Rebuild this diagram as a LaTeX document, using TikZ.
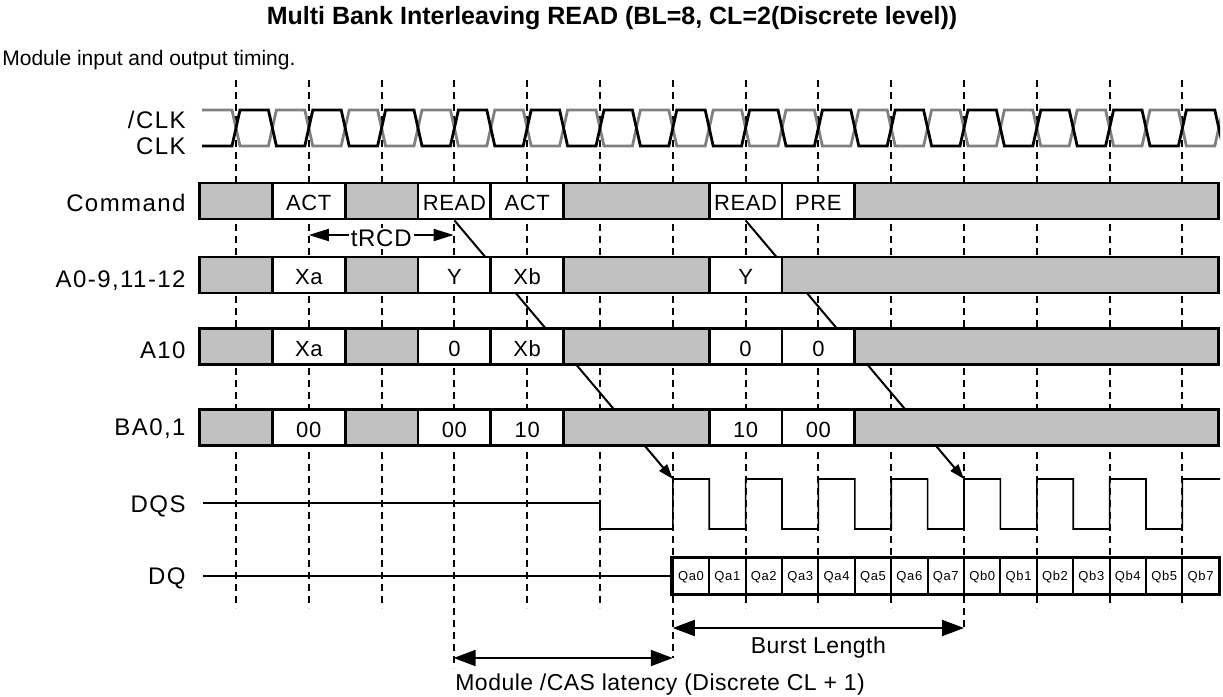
\documentclass[tikz,border=0pt]{standalone}
\usepackage{fontspec}
\setmainfont{Liberation Sans}
\usetikzlibrary{arrows.meta}
\definecolor{cellgray}{HTML}{C0C0C0}
\definecolor{clkgray}{HTML}{808080}
\pgfdeclarelayer{bg}
\pgfsetlayers{bg,main}

\begin{document}
\begin{tikzpicture}[x=0.5pt,y=-0.5pt,
 cell/.style={draw,line width=1.4pt,minimum height=18pt,inner sep=0pt,text height=9.9pt,text depth=0pt,
   font=\fontsize{11}{11}\selectfont\addfontfeatures{LetterSpace=3}},
 qcell/.style={draw,line width=1pt,fill=white,minimum width=18.2pt,minimum height=18pt,inner sep=0pt,
   text height=4.65pt,text depth=0pt,font=\fontsize{6.5}{6.5}\selectfont\addfontfeatures{LetterSpace=5}},
 lab/.style={anchor=base east,inner sep=0pt,font=\fontsize{12}{12}\selectfont\addfontfeatures{LetterSpace=6}},
 tick/.style={line width=1pt,dash pattern=on 3.5pt off 2.5pt},
 clk/.style={line width=1.4pt},
 wave/.style={line width=0.8pt},
 diag/.style={line width=1pt,-{Triangle[length=7.5pt,width=5pt]}},
 dim/.style={line width=1pt,{Triangle[length=11pt,width=8pt]}-{Triangle[length=11pt,width=8pt]}},
 dimn/.style={line width=1pt,{Triangle[length=10pt,width=6pt]}-{Triangle[length=10pt,width=6pt]}},
 note/.style={inner sep=0pt,font=\fontsize{11.5}{12}\selectfont\addfontfeatures{LetterSpace=2}}]

\useasboundingbox (0,0) rectangle (1223,697);

% headings
\node[font=\fontsize{12.5}{14}\selectfont\bfseries] (title) at (612,18) {Multi Bank Interleaving READ (BL=8, CL=2(Discrete level))};
\node[anchor=west,inner sep=0pt,font=\fontsize{10.5}{12}\selectfont] (sub) at (2,60) {Module input and output timing.};

% signal names
\node[lab] (lclkn) at (186,128) {/CLK};
\node[lab] (lclk) at (186,154.5) {CLK};
\node[lab] (lcmd) at (186,211.5) {Command};
\node[lab] (ladr) at (186,287) {A0-9,11-12};
\node[lab] (la10) at (186,358.5) {A10};
\node[lab] (lba) at (186,435.5) {BA0,1};
\node[lab] (ldqs) at (186,512) {DQS};
\node[lab] (ldq) at (186,584.5) {DQ};

% clocks
\begin{scope}
\clip (200,95) rectangle (1220,160);
\draw[clk,clkgray] (202,110) \foreach \k in {0,...,13}{ -- ({232+72.8*\k},110) -- ({240+72.8*\k},146) -- ({268.4+72.8*\k},146) -- ({276.4+72.8*\k},110)};
\draw[clk] (202,146) \foreach \k in {0,...,13}{ -- ({232+72.8*\k},146) -- ({240+72.8*\k},110) -- ({268.4+72.8*\k},110) -- ({276.4+72.8*\k},146)};
\end{scope}

% bus rows
\foreach \a/\b/\f/\t [count=\i] in {0/1/cellgray/{},1/2/white/ACT,2/3/cellgray/{},3/4/white/READ,4/5/white/ACT,5/7/cellgray/{},7/8/white/READ,8/9/white/PRE,9/14/cellgray/{}}
  \node[cell,fill=\f,minimum width={(\b-\a)*36.4pt}] (cmd\i) at ({199.6+36.4*(\a+\b)},201) {\t};
\foreach \a/\b/\f/\t [count=\i] in {0/1/cellgray/{},1/2/white/Xa,2/3/cellgray/{},3/4/white/Y,4/5/white/Xb,5/7/cellgray/{},7/8/white/Y,8/14/cellgray/{}}
  \node[cell,fill=\f,minimum width={(\b-\a)*36.4pt}] (adr\i) at ({199.6+36.4*(\a+\b)},275) {\t};
\foreach \a/\b/\f/\t [count=\i] in {0/1/cellgray/{},1/2/white/Xa,2/3/cellgray/{},3/4/white/0,4/5/white/Xb,5/7/cellgray/{},7/8/white/0,8/9/white/0,9/14/cellgray/{}}
  \node[cell,fill=\f,minimum width={(\b-\a)*36.4pt}] (ten\i) at ({199.6+36.4*(\a+\b)},346.5) {\t};
\foreach \a/\b/\f/\t [count=\i] in {0/1/cellgray/{},1/2/white/00,2/3/cellgray/{},3/4/white/00,4/5/white/10,5/7/cellgray/{},7/8/white/10,8/9/white/00,9/14/cellgray/{}}
  \node[cell,fill=\f,minimum width={(\b-\a)*36.4pt}] (ba\i) at ({199.6+36.4*(\a+\b)},427.5) {\t};

% DQS
\coordinate (dqsA) at (672.8,479);
\coordinate (dqsB) at (964,479);
\draw[wave] (ldqs.east |- 0,503) ++(17,0) -- (600,503) -- (600,529) -- (672.8,529)
  \foreach \k in {6,...,12}{ -- ({236+72.8*\k},479) -- ({272.4+72.8*\k},479) -- ({272.4+72.8*\k},529) -- ({308.8+72.8*\k},529)}
  -- (1182.4,479) -- (1220,479);

% DQ
\foreach \t [count=\i] in {Qa0,Qa1,Qa2,Qa3,Qa4,Qa5,Qa6,Qa7,Qb0,Qb1,Qb2,Qb3,Qb4,Qb5,Qb7}
  \node[qcell] (dq\i) at ({672.8+36.4*(\i-0.5)},576) {\t};
\draw[line width=1.4pt] (dq1.north west) rectangle (dq15.south east);
\draw[wave] (ldq.east |- 0,576) ++(17,0) -- (dq1.west);

% timing marks
\coordinate (rcdL) at (308.8,235);
\coordinate (rcdR) at (453.6,235);
\draw[dimn] (rcdL) -- (rcdR) node[midway,fill=white,inner sep=1pt,yshift=-1.5pt,font=\fontsize{12}{12}\selectfont\addfontfeatures{LetterSpace=3}] (trcd) {tRCD};
\coordinate (blL) at (672.8,628);
\coordinate (blR) at (964,628);
\draw[dim] (blL) -- (blR);
\node[note] (bltext) at (818.4,648) {Burst Length};
\coordinate (casL) at (453.6,658);
\coordinate (casR) at (672.8,658);
\draw[dim] (casL) -- (casR);
\node[note,anchor=west] (castext) at (455,685) {Module /CAS latency (Discrete CL + 1)};

\begin{pgfonlayer}{bg}
\foreach \k/\e in {0/608,1/608,2/608,3/668,4/608,5/608,6/658,7/608,8/608,9/608,10/630,11/608,12/608,13/608}
  \draw[tick] ({236+72.8*\k},80) -- ({236+72.8*\k},\e);
\draw[diag] (cmd4.south) -- (dqsA);
\draw[diag] (cmd7.south) -- (dqsB);
\end{pgfonlayer}
\end{tikzpicture}
\end{document}
